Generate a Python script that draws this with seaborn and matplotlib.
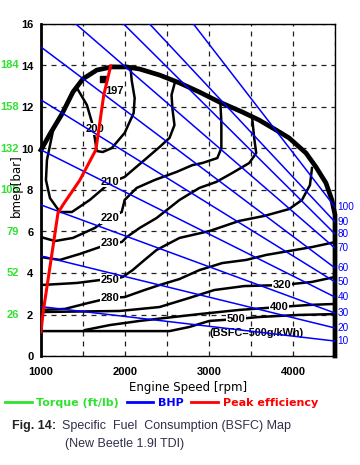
import matplotlib
matplotlib.use("Agg")
import matplotlib.pyplot as plt
from matplotlib.lines import Line2D
import matplotlib.transforms as mtransforms
import seaborn as sns

# full load curve (max bmep)
full_rpm = [1000, 1107, 1249, 1380, 1498, 1664, 1842, 2020, 2174, 2411, 2649, 2886,
            3123, 3396, 3597, 3799, 3953, 4155, 4273, 4392, 4463, 4500, 4500]
full_bmep = [9.93, 10.70, 11.66, 12.72, 13.35, 13.78, 13.93, 13.93, 13.83, 13.54, 13.16, 12.72,
             12.24, 11.76, 11.37, 10.89, 10.51, 9.78, 9.11, 8.34, 7.52, 6.80, 0.0]

# BSFC contours (g/kWh)
c200_rpm = [1427, 1546, 1605, 1640, 1664, 1735, 1842, 1996, 2103, 2115, 2079, 2067]
c200_bmep = [12.92, 12.10, 11.28, 10.51, 9.88, 9.83, 10.02, 10.75, 11.71, 12.43, 13.30, 13.88]

c210_rpm = [1142, 1071, 1059, 1107, 1225, 1368, 1581, 1818, 1996, 2091, 2233, 2411,
            2530, 2589, 2566, 2554, 2589]
c210_bmep = [10.84, 9.45, 8.48, 7.61, 6.94, 6.94, 7.52, 8.34, 8.63, 8.96, 9.45, 10.07,
             10.51, 11.13, 11.86, 12.58, 13.11]

c220_rpm = [1000, 1166, 1380, 1640, 1818, 1961, 1996, 2139, 2352, 2613, 2803, 2921,
            3099, 3147, 3147, 3135]
c220_bmep = [5.73, 5.54, 5.69, 6.17, 6.65, 6.94, 7.52, 8.10, 8.48, 8.87, 9.20, 9.30,
             9.54, 10.02, 11.28, 12.24]

c230_rpm = [1000, 1225, 1463, 1700, 1818, 1961, 2020, 2174, 2376, 2649, 2886, 3087,
            3277, 3479, 3562, 3538, 3514]
c230_bmep = [4.77, 4.63, 4.92, 5.25, 5.45, 5.49, 5.73, 6.17, 6.65, 7.52, 8.10, 8.39,
             8.82, 9.30, 9.78, 10.51, 11.47]

c250_rpm = [1000, 1427, 1700, 1818, 1973, 2091, 2233, 2376, 2649, 3004, 3360, 3657,
            3953, 4107, 4202, 4226]
c250_bmep = [3.42, 3.52, 3.66, 3.66, 3.81, 4.14, 4.63, 5.11, 5.69, 6.02, 6.51, 6.75,
             7.08, 7.52, 8.24, 9.06]

c280_rpm = [1000, 1285, 1557, 1818, 1996, 2233, 2411, 2649, 2886, 3159, 3443, 3680,
            3953, 4226, 4500]
c280_bmep = [2.22, 2.27, 2.55, 2.80, 2.84, 3.18, 3.42, 3.71, 4.14, 4.48, 4.63, 4.87,
             5.06, 5.25, 5.49]

c320_rpm = [1000, 1937, 2411, 2767, 3063, 3419, 3870, 4226, 4500]
c320_bmep = [2.12, 2.17, 2.36, 2.80, 3.18, 3.37, 3.42, 3.57, 3.81]

c400_rpm = [1522, 1818, 2174, 2471, 2886, 3360, 3835, 4190, 4500]
c400_bmep = [1.25, 1.49, 1.69, 1.83, 2.02, 2.22, 2.36, 2.46, 2.51]

c500_rpm = [1000, 1937, 2530, 2767, 3004, 3325, 3597, 4072, 4500]
c500_bmep = [1.20, 1.20, 1.20, 1.40, 1.69, 1.78, 1.88, 1.98, 2.02]

contour_labels = ["200", "210", "220", "230", "250", "280", "320", "400", "500"]
label_rpm = [1640, 1818, 1818, 1818, 1818, 1818, 3870, 3835, 3325]
label_bmep = [10.94, 8.39, 6.65, 5.45, 3.66, 2.80, 3.42, 2.36, 1.78]

best_rpm, best_bmep = 1735, 13.35
best_label_rpm, best_label_bmep = 1870, 12.77

# constant power lines (BHP)
bhp_levels = [10, 20, 30, 40, 50, 60, 70, 80, 90, 100]
bhp_start_rpm = [1000, 1000, 1000, 1000, 1000, 1000, 1415, 1984, 2293, 2815]
bhp_start_bmep = [2.38, 4.82, 7.28, 9.93, 12.34, 14.89, 16, 16, 16, 16]
bhp_end_rpm = [4500] * 10
bhp_end_bmep = [0.72, 1.35, 2.07, 2.84, 3.57, 4.24, 5.20, 5.88, 6.46, 7.18]

# peak efficiency line
peak_rpm = [1000, 1024, 1083, 1142, 1202, 1261, 1463, 1652, 1688, 1747, 1830]
peak_bmep = [1.16, 2.07, 3.66, 5.25, 6.89, 7.28, 8.48, 9.93, 10.89, 12.58, 13.98]

bmep_ticks = [0, 2, 4, 6, 8, 10, 12, 14, 16]
torque_ticks = [2, 4, 6, 8, 10, 12, 14]
torque_labels = ["26", "52", "79", "105", "132", "158", "184"]
rpm_grid = [1000, 1500, 2000, 2500, 3000, 3500, 4000, 4500]
rpm_labels = ["1000", "", "2000", "", "3000", "", "4000", ""]

plt.rcParams['font.family'] = ['DejaVu Sans']
GREEN = '#2fe22f'
ARIAL = 'Liberation Sans'

fig = plt.figure(figsize=(3.6, 4.65), dpi=100)
ax = fig.add_axes([41 / 360, 1 - 356 / 465, 294 / 360, 332 / 465])

contours = [(c200_rpm, c200_bmep), (c210_rpm, c210_bmep), (c220_rpm, c220_bmep),
            (c230_rpm, c230_bmep), (c250_rpm, c250_bmep), (c280_rpm, c280_bmep),
            (c320_rpm, c320_bmep), (c400_rpm, c400_bmep), (c500_rpm, c500_bmep)]
for xs, ys in contours:
    sns.lineplot(x=xs, y=ys, sort=False, estimator=None, color='black',
                 linewidth=1.8, ax=ax, zorder=3)

sns.lineplot(x=full_rpm, y=full_bmep, sort=False, estimator=None, color='black',
             linewidth=3.4, ax=ax, zorder=3, clip_on=False)

trans = mtransforms.blended_transform_factory(ax.transAxes, ax.transData)
for lvl, x0, y0, x1, y1 in zip(bhp_levels, bhp_start_rpm, bhp_start_bmep, bhp_end_rpm, bhp_end_bmep):
    sns.lineplot(x=[x0, x1], y=[y0, y1], sort=False, estimator=None, color='#0000ff',
                 linewidth=1.1, ax=ax, zorder=5)
    ax.text(1.008, y1, str(lvl), transform=trans, color='#0000ff', fontsize=7.2,
            family=ARIAL, ha='left', va='center', clip_on=False)

sns.lineplot(x=peak_rpm, y=peak_bmep, sort=False, estimator=None, color='#ff0000',
             linewidth=2.2, ax=ax, zorder=6)

for t, x, y in zip(contour_labels, label_rpm, label_bmep):
    ax.text(x, y, t, fontsize=8, fontweight='bold', family=ARIAL, ha='center', va='center',
            zorder=4, bbox=dict(facecolor='white', edgecolor='none', pad=0.4))

ax.scatter([best_rpm], [best_bmep], marker='s', s=22, color='black', zorder=4)
ax.text(best_label_rpm, best_label_bmep, "197", fontsize=8, fontweight='bold', family=ARIAL,
        ha='center', va='center', zorder=4)
ax.text(3562, 1.11, "(BSFC=500g/kWh)", fontsize=7.8, fontweight='bold', family=ARIAL,
        ha='center', va='center', zorder=4)

ax.set_xlim(1000, 4500)
ax.set_ylim(0, 16)
ax.set_xticks(rpm_grid, labels=rpm_labels)
ax.set_yticks(bmep_ticks, labels=[str(v) for v in bmep_ticks])
ax.tick_params(length=0, labelsize=8)
ax.tick_params(axis='x', pad=8)
ax.tick_params(axis='y', pad=5.5)
for lab in ax.get_xticklabels() + ax.get_yticklabels():
    lab.set_fontweight('bold')
    lab.set_family(ARIAL)
ax.grid(True, color='#222222', linestyle=(0, (4, 4)), linewidth=0.9, zorder=1)
ax.set_axisbelow(True)
for s in ax.spines.values():
    s.set_color('black')
    s.set_linewidth(1.0)
ax.spines['left'].set_linewidth(2.0)
ax.set_xlabel("")
ax.set_ylabel("")

for v, t in zip(torque_ticks, torque_labels):
    ax.text(-0.076, v, t, transform=trans, color=GREEN, fontsize=8, fontweight='bold',
            family=ARIAL, ha='right', va='center', clip_on=False)

fig.text(16 / 360, 1 - 186 / 465, "bmep[bar]", rotation=90, ha='center', va='center', fontsize=8.5)
fig.text(188 / 360, 1 - 388 / 465, "Engine Speed [rpm]", ha='center', va='center', fontsize=8.5)

handles = [Line2D([], [], color=GREEN, lw=2), Line2D([], [], color='#0000ff', lw=2),
           Line2D([], [], color='#ff0000', lw=2)]
fig.legend(handles, ["Torque (ft/lb)", "BHP", "Peak efficiency"], loc='center left',
           bbox_to_anchor=(0.005, 1 - 403 / 465), ncol=3, frameon=False, handlelength=2.4,
           handletextpad=0.4, columnspacing=0.7, borderaxespad=0, borderpad=0.3,
           prop={'weight': 'bold', 'size': 8}, labelcolor=[GREEN, '#0000ff', '#ff0000'])

fig.text(12 / 360, 1 - 426 / 465, "Fig. 14:", fontsize=9, fontweight='bold', color='#222222',
         ha='left', va='center', family=ARIAL)
fig.text(62 / 360, 1 - 426 / 465, "Specific  Fuel  Consumption (BSFC) Map", fontsize=9,
         color='#30304a', ha='left', va='center', family=ARIAL)
fig.text(65 / 360, 1 - 444 / 465, "(New Beetle 1.9l TDI)", fontsize=9,
         color='#30304a', ha='left', va='center', family=ARIAL)

fig.savefig("out.png", dpi=100)
